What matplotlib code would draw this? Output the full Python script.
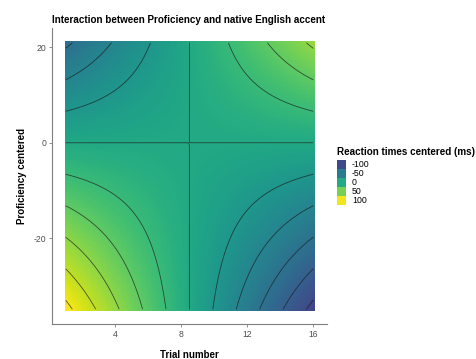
import numpy as np
import matplotlib
matplotlib.use('Agg')
import matplotlib.pyplot as plt
from matplotlib.colors import LinearSegmentedColormap, Normalize

plt.rcParams['font.family'] = ['Liberation Sans', 'DejaVu Sans']
plt.rcParams['axes.unicode_minus'] = False

# Model: rt = b0 + b_trial*trial + b_prof*prof + b_inter*trial*prof
trial_range = [1, 16]
proficiency_range = [-34.8, 20.9]
n_grid = 100
b0 = 0.0
b_trial = 0.0
b_prof = -3.44
b_inter = 0.405

contour_levels = [-100, -80, -60, -40, -20, 0, 20, 40, 60, 80, 100]
legend_values = [-100, -50, 0, 50, 100]
x_ticks = [4, 8, 12, 16]
y_ticks = [-20, 0, 20]

# prediction grid
trial = np.linspace(trial_range[0], trial_range[1], n_grid)
prof = np.linspace(proficiency_range[0], proficiency_range[1], n_grid)
T, P = np.meshgrid(trial, prof)
Z = b0 + b_trial * T + b_prof * P + b_inter * T * P

# viridis, begin = 0.2
vir = plt.get_cmap('viridis')
cmap = LinearSegmentedColormap.from_list('vir02', vir(np.linspace(0.2, 1.0, 256)))
zmax = np.abs(Z).max()
norm = Normalize(vmin=-zmax, vmax=zmax)

W, H = 477, 359
fig = plt.figure(figsize=(W / 100, H / 100), dpi=100)
ax = fig.add_axes([52 / W, 35 / H, 275 / W, 296 / H])

ax.pcolormesh(T, P, Z, cmap=cmap, norm=norm, shading='nearest', rasterized=True)
ax.contour(T, P, Z, levels=contour_levels, colors='#1a1a1a', linewidths=0.6,
           alpha=0.7, linestyles='solid')

dx = (trial_range[1] - trial_range[0]) / (n_grid - 1)
dy = (proficiency_range[1] - proficiency_range[0]) / (n_grid - 1)
x0, x1 = trial_range[0] - dx / 2, trial_range[1] + dx / 2
y0, y1 = proficiency_range[0] - dy / 2, proficiency_range[1] + dy / 2
ax.set_xlim(x0 - 0.05 * (x1 - x0), x1 + 0.05 * (x1 - x0))
ax.set_ylim(y0 - 0.05 * (y1 - y0), y1 + 0.05 * (y1 - y0))

ax.set_xticks(x_ticks)
ax.set_yticks(y_ticks)
for s in ['top', 'right']:
    ax.spines[s].set_visible(False)
for s in ['left', 'bottom']:
    ax.spines[s].set_color('#7f7f7f')
    ax.spines[s].set_linewidth(0.8)
ax.tick_params(colors='#7f7f7f', labelcolor='#4d4d4d', labelsize=6.2, length=2.5, width=0.6, pad=1.5)

ax.set_xlabel('Trial number', fontsize=7, fontweight='bold', labelpad=8)
ax.set_ylabel('Proficiency centered', fontsize=7, fontweight='bold', labelpad=5)
fig.text(52 / W, 1 - 20 / H, 'Interaction between Proficiency and native English accent',
         fontsize=7.1, fontweight='bold', ha='left', va='center')

# legend
lax = fig.add_axes([337 / W, (H - 205) / H, 9 / W, 45 / H])
for i, v in enumerate(legend_values):
    lax.bar(0, 1, bottom=len(legend_values) - 1 - i, width=1, color=cmap(norm(v)))
    lax.text(1.15, len(legend_values) - 0.5 - i, str(v), fontsize=6.3, va='center', ha='left')
lax.set_xlim(-0.5, 0.5)
lax.set_ylim(0, len(legend_values))
lax.axis('off')
fig.text(337 / W, 1 - 151.5 / H, 'Reaction times centered (ms)', fontsize=7.1,
         fontweight='bold', ha='left', va='center')

fig.savefig('out.png', dpi=100)
